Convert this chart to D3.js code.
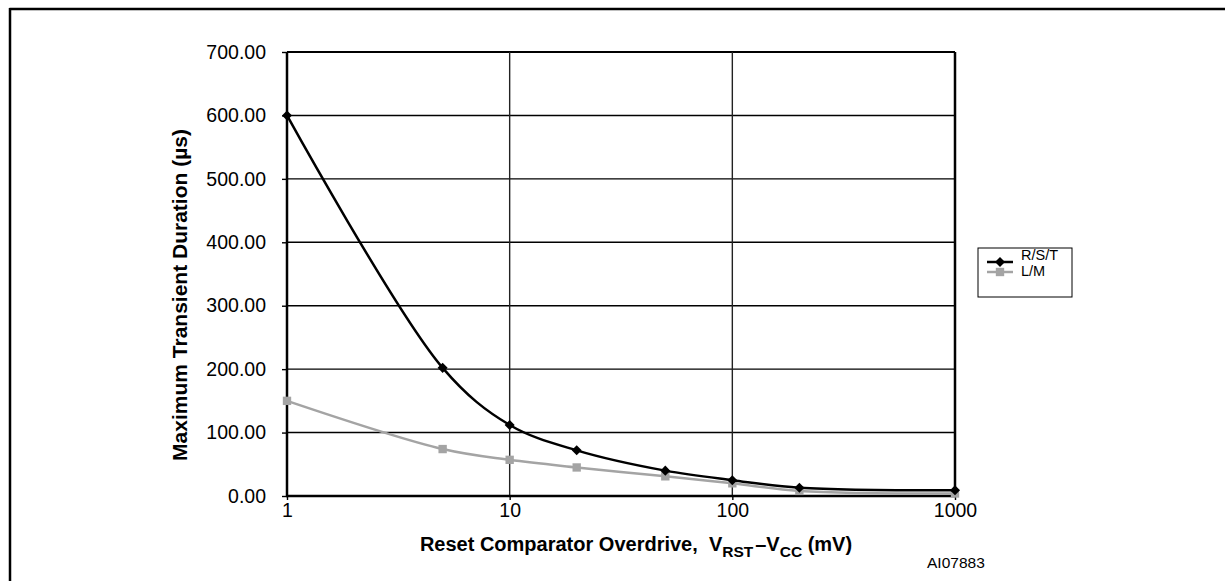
<!DOCTYPE html>
<html>
<head>
<meta charset="utf-8">
<script src="https://cdn.jsdelivr.net/npm/d3@7"></script>
<style>
  body { margin: 0; background: #fff; }
  svg { display: block; font-family: "Liberation Sans", Arial, sans-serif; }
</style>
</head>
<body>
<div id="chart"></div>
<script>
// data
var overdrive = [1, 5, 10, 20, 50, 100, 200, 1000];
var rstValues = [600, 202, 112, 72, 40, 25, 13, 9];
var lmValues = [150, 74, 57, 45, 31, 20, 8, 4];
var seriesNames = ["R/S/T", "L/M"];
var xTicks = [1, 10, 100, 1000];
var yTicks = [0, 100, 200, 300, 400, 500, 600, 700];

var svgWidth = 1225;
var svgHeight = 581;

var margin = { top: 52, left: 287 };
var width = 955 - 287;
var height = 496 - 52;

var svg = d3.select("#chart")
  .append("svg")
  .attr("width", svgWidth)
  .attr("height", svgHeight);

// outer frame (top + left only)
svg.append("line")
  .attr("x1", 9.5).attr("x2", svgWidth)
  .attr("y1", 9).attr("y2", 9)
  .attr("stroke", "#000").attr("stroke-width", 2.5);
svg.append("line")
  .attr("x1", 10).attr("x2", 10)
  .attr("y1", 8).attr("y2", svgHeight)
  .attr("stroke", "#000").attr("stroke-width", 2.5);

var chartGroup = svg.append("g")
  .attr("transform", `translate(${margin.left}, ${margin.top})`);

var xScale = d3.scaleLog()
  .domain([1, 1000])
  .range([0, width]);

var yScale = d3.scaleLinear()
  .domain([0, 700])
  .range([height, 0]);

// gridlines
chartGroup.append("g")
  .selectAll("line")
  .data(yTicks.slice(1))
  .enter()
  .append("line")
  .attr("x1", 0).attr("x2", width)
  .attr("y1", d => yScale(d)).attr("y2", d => yScale(d))
  .attr("stroke", "#000")
  .attr("stroke-width", d => d === 700 ? 2 : 1.4);

chartGroup.append("g")
  .selectAll("line")
  .data(xTicks.slice(1))
  .enter()
  .append("line")
  .attr("x1", d => xScale(d)).attr("x2", d => xScale(d))
  .attr("y1", 0).attr("y2", height)
  .attr("stroke", d => d === 1000 ? "#000" : "#222")
  .attr("stroke-width", d => d === 1000 ? 2.5 : 1.4);

// axes
var leftAxis = d3.axisLeft(yScale)
  .tickValues(yTicks)
  .tickFormat(d3.format(".2f"))
  .tickSize(5)
  .tickPadding(16);

var bottomAxis = d3.axisBottom(xScale)
  .tickValues(xTicks)
  .tickFormat(d3.format("d"))
  .tickSize(4)
  .tickPadding(3);

var yAxisG = chartGroup.append("g").call(leftAxis);
var xAxisG = chartGroup.append("g")
  .attr("transform", `translate(0, ${height})`)
  .call(bottomAxis);

[yAxisG, xAxisG].forEach(function(g) {
  g.select(".domain").remove();
  g.selectAll("text")
    .attr("font-family", "Liberation Sans, Arial, sans-serif")
    .attr("font-size", 19.5)
    .attr("fill", "#000");
  g.selectAll(".tick line").attr("stroke", "#000").attr("stroke-width", 1.4);
});

chartGroup.append("line")
  .attr("x1", 0).attr("x2", 0)
  .attr("y1", 0).attr("y2", height + 1)
  .attr("stroke", "#000").attr("stroke-width", 2.5);
chartGroup.append("line")
  .attr("x1", -1).attr("x2", width + 1)
  .attr("y1", height).attr("y2", height)
  .attr("stroke", "#000").attr("stroke-width", 2.5);

// series
var series = [
  { name: seriesNames[0], values: rstValues, color: "#000", marker: "diamond" },
  { name: seriesNames[1], values: lmValues, color: "#a4a4a4", marker: "square" }
];

var line = d3.line()
  .x(d => xScale(d[0]))
  .y(d => yScale(d[1]))
  .curve(d3.curveCatmullRom.alpha(0.5));

var diamond = d3.symbol().type(d3.symbolDiamond2).size(64);
var square = d3.symbol().type(d3.symbolSquare).size(70);

series.slice().reverse().forEach(function(s) {
  var pts = overdrive.map((x, i) => [x, s.values[i]]);
  chartGroup.append("path")
    .datum(pts)
    .attr("d", line)
    .attr("fill", "none")
    .attr("stroke", s.color)
    .attr("stroke-width", 2.5);
  chartGroup.selectAll(null)
    .data(pts)
    .enter()
    .append("path")
    .attr("transform", d => `translate(${xScale(d[0])}, ${yScale(d[1])})`)
    .attr("d", s.marker === "diamond" ? diamond : square)
    .attr("fill", s.color);
});

// axis titles
var xTitle = svg.append("text")
  .attr("x", 636)
  .attr("y", 551)
  .attr("text-anchor", "middle")
  .attr("font-weight", "bold")
  .attr("font-size", 20);
xTitle.append("tspan").text("Reset Comparator Overdrive,\u00a0\u00a0V");
xTitle.append("tspan").attr("dy", 6).attr("font-size", 15.5).text("RST");
xTitle.append("tspan").attr("dy", -6).attr("dx", 2).text("\u2013V");
xTitle.append("tspan").attr("dy", 6).attr("font-size", 15.5).text("CC");
xTitle.append("tspan").attr("dy", -6).text(" (mV)");

svg.append("text")
  .attr("transform", "translate(187, 295) rotate(-90)")
  .attr("text-anchor", "middle")
  .attr("font-weight", "bold")
  .attr("font-size", 21)
  .text("Maximum Transient Duration (\u00b5s)");

svg.append("text")
  .attr("x", 927)
  .attr("y", 568)
  .attr("font-size", 15.5)
  .text("AI07883");

// legend
var legend = svg.append("g").attr("transform", "translate(978, 248)");
legend.append("rect")
  .attr("width", 94).attr("height", 49)
  .attr("fill", "#fff")
  .attr("stroke", "#000").attr("stroke-width", 1);

series.forEach(function(s, i) {
  var yy = 14 + i * 10;
  legend.append("line")
    .attr("x1", 9).attr("x2", 35)
    .attr("y1", yy).attr("y2", yy)
    .attr("stroke", s.color).attr("stroke-width", 2.5);
  legend.append("path")
    .attr("transform", `translate(22, ${yy})`)
    .attr("d", s.marker === "diamond" ? diamond : square)
    .attr("fill", s.color);
  legend.append("text")
    .attr("x", 43)
    .attr("y", 12 + i * 16)
    .attr("font-size", 14.5)
    .text(s.name);
});
</script>
</body>
</html>
